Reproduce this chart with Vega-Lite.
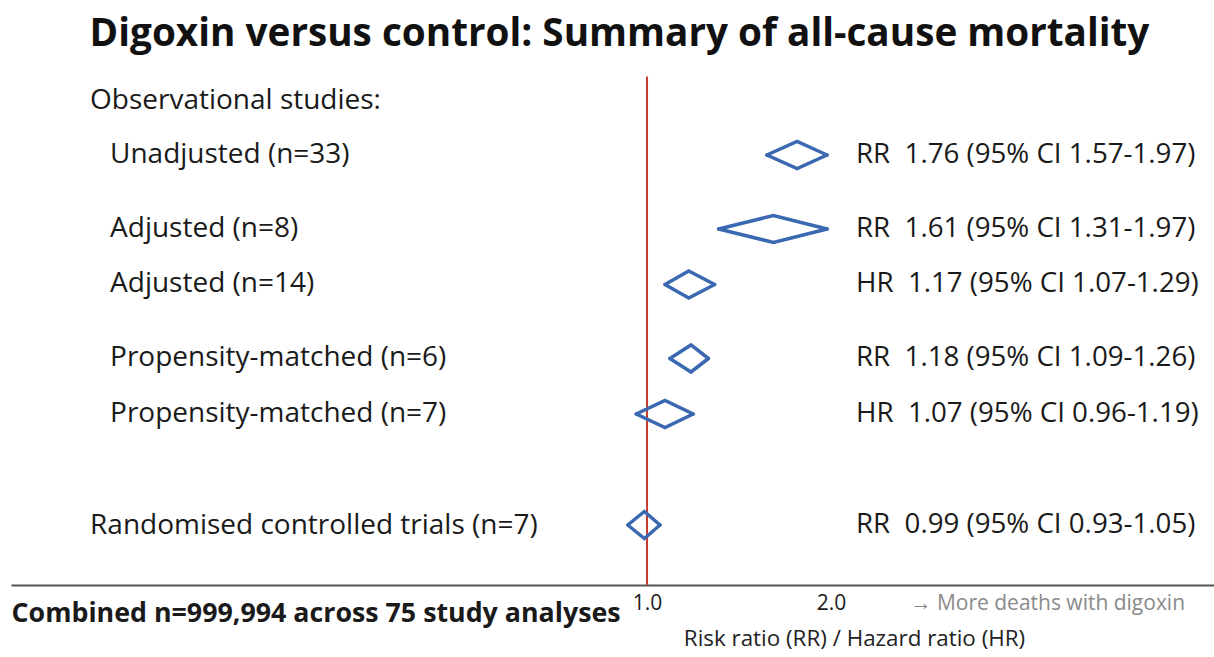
{
  "$schema": "https://vega.github.io/schema/vega-lite/v6.json",
  "autosize": "none",
  "width": 1203,
  "height": {"step": 18.5},
  "padding": {"left": 11, "top": 76.5, "right": 0, "bottom": 72},
  "background": "white",
  "title": {
    "text": "Digoxin versus control: Summary of all-cause mortality",
    "font": "Open Sans",
    "fontSize": 38.7,
    "fontWeight": "bold",
    "color": "#111111",
    "anchor": "middle",
    "dx": 7,
    "offset": 22
  },
  "config": {"view": {"stroke": null}, "font": "Open Sans"},
  "data": {
    "values": [
      {"label": "Observational studies:", "kind": "header"},
      {"label": "Unadjusted (n=33)", "kind": "sub", "measure": "RR", "est": 1.76, "lo": 1.57, "hi": 1.97, "summary": "RR\u00a0 1.76 (95% CI 1.57-1.97)"},
      {"label": "Adjusted (n=8)", "kind": "sub", "measure": "RR", "est": 1.61, "lo": 1.31, "hi": 1.97, "summary": "RR\u00a0 1.61 (95% CI 1.31-1.97)"},
      {"label": "Adjusted (n=14)", "kind": "sub", "measure": "HR", "est": 1.17, "lo": 1.07, "hi": 1.29, "summary": "HR\u00a0 1.17 (95% CI 1.07-1.29)"},
      {"label": "Propensity-matched (n=6)", "kind": "sub", "measure": "RR", "est": 1.18, "lo": 1.09, "hi": 1.26, "summary": "RR\u00a0 1.18 (95% CI 1.09-1.26)"},
      {"label": "Propensity-matched (n=7)", "kind": "sub", "measure": "HR", "est": 1.07, "lo": 0.96, "hi": 1.19, "summary": "HR\u00a0 1.07 (95% CI 0.96-1.19)"},
      {"label": "Randomised controlled trials (n=7)", "kind": "header", "measure": "RR", "est": 0.99, "lo": 0.93, "hi": 1.05, "summary": "RR\u00a0 0.99 (95% CI 0.93-1.05)"}
    ]
  },
  "encoding": {
    "y": {
      "field": "label",
      "type": "nominal",
      "scale": {
        "domain": ["Observational studies:", "g1", "g2", "Unadjusted (n=33)", "g3", "g4", "g5", "Adjusted (n=8)", "g6", "g7", "Adjusted (n=14)", "g8", "g9", "g10", "Propensity-matched (n=6)", "g11", "g12", "Propensity-matched (n=7)", "g13", "g14", "g15", "g16", "g17", "Randomised controlled trials (n=7)", "g18", "g19"],
        "paddingInner": 0,
        "paddingOuter": 0.743
      },
      "axis": null
    }
  },
  "layer": [
    {
      "mark": {"type": "rule", "color": "#c8392c", "strokeWidth": 2},
      "transform": [{"filter": "datum.label === 'Observational studies:'"}],
      "encoding": {
        "y": null,
        "x": {
          "datum": 1,
          "type": "quantitative",
          "scale": {"type": "log", "domain": [0.0911, 8.462], "nice": false, "zero": false},
          "axis": {
            "values": [0.0911, 1, 2, 2.693],
            "title": "Risk ratio (RR) / Hazard ratio (HR)",
            "titleFont": "Open Sans",
            "titleFontSize": 22.4,
            "titleFontWeight": "normal",
            "titleColor": "#222222",
            "titleX": 843,
            "titleY": 54,
            "titleBaseline": "middle",
            "titleAlign": "center",
            "domainColor": "#555555",
            "domainWidth": 2,
            "ticks": false,
            "grid": false,
            "labelOverlap": false,
            "labelFlush": false,
            "labelBound": false,
            "labelLimit": 800,
            "labelBaseline": "middle",
            "labelFont": "Open Sans",
            "labelExpr": "datum.value < 0.5 ? 'Combined n=999,994 across 75 study analyses' : datum.value > 2.5 ? '\u2192 More deaths with digoxin' : format(datum.value, '.1f')",
            "labelAlign": {"condition": {"test": "datum.value < 0.5 || datum.value > 2.5", "value": "left"}, "value": "center"},
            "labelFontSize": {"condition": {"test": "datum.value < 0.5", "value": 26.8}, "value": 21},
            "labelFontWeight": {"condition": {"test": "datum.value < 0.5", "value": "bold"}, "value": "normal"},
            "labelColor": {"condition": {"test": "datum.value > 2.5", "value": "#8a8a8a"}, "value": "#1a1a1a"},
            "labelPadding": {"condition": {"test": "datum.value < 0.5", "value": 29}, "value": 19}
          }
        }
      }
    },
    {
      "transform": [
        {"filter": "isValid(datum.est)"},
        {"fold": ["lo", "est", "hi"], "as": ["pt", "val"]},
        {"calculate": "datum.pt === 'est' ? -1 : 0", "as": "dy"}
      ],
      "mark": {"type": "line", "color": "#3b69b1", "strokeWidth": 3.5, "strokeJoin": "miter", "strokeCap": "round"},
      "encoding": {
        "x": {"field": "val", "type": "quantitative"},
        "yOffset": {"field": "dy", "type": "quantitative", "scale": {"domain": [-0.685, 0.685]}},
        "order": {"field": "val", "type": "quantitative"},
        "detail": {"field": "label"}
      }
    },
    {
      "transform": [
        {"filter": "isValid(datum.est)"},
        {"fold": ["lo", "est", "hi"], "as": ["pt", "val"]},
        {"calculate": "datum.pt === 'est' ? 1 : 0", "as": "dy"}
      ],
      "mark": {"type": "line", "color": "#3b69b1", "strokeWidth": 3.5, "strokeJoin": "miter", "strokeCap": "round"},
      "encoding": {
        "x": {"field": "val", "type": "quantitative"},
        "yOffset": {"field": "dy", "type": "quantitative", "scale": {"domain": [-0.685, 0.685]}},
        "order": {"field": "val", "type": "quantitative"},
        "detail": {"field": "label"}
      }
    },
    {
      "transform": [{"filter": "datum.kind === 'header'"}],
      "mark": {"type": "text", "align": "left", "baseline": "middle", "fontSize": 28, "color": "#1a1a1a", "font": "Open Sans", "dy": 1.5},
      "encoding": {
        "x": {"datum": 0.1227, "type": "quantitative"},
        "text": {"field": "label"}
      }
    },
    {
      "transform": [{"filter": "datum.kind === 'sub'"}],
      "mark": {"type": "text", "align": "left", "baseline": "middle", "fontSize": 28, "color": "#1a1a1a", "font": "Open Sans"},
      "encoding": {
        "x": {"datum": 0.1323, "type": "quantitative"},
        "text": {"field": "label"}
      }
    },
    {
      "transform": [{"filter": "isValid(datum.est)"}],
      "mark": {"type": "text", "align": "left", "baseline": "middle", "fontSize": 27.7, "color": "#1a1a1a", "font": "Open Sans"},
      "encoding": {
        "x": {"datum": 2.197, "type": "quantitative"},
        "text": {"field": "summary"}
      }
    }
  ]
}
